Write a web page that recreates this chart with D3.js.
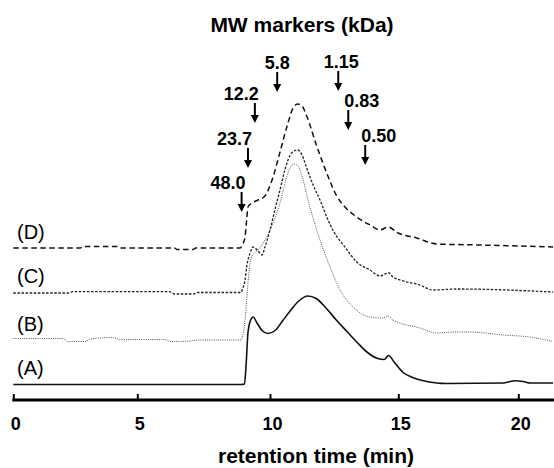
<!DOCTYPE html>
<html>
<head>
<meta charset="utf-8">
<script src="https://cdn.jsdelivr.net/npm/d3@7"></script>
<style>
  html, body { margin: 0; padding: 0; background: #fff; }
  svg { display: block; font-family: "Liberation Sans", Arial, sans-serif; }
</style>
</head>
<body>
<svg id="chart" width="554" height="468"></svg>
<script>
// ---------- data ----------
const xTicks = [0, 5, 10, 15, 20];
const seriesNames = ["(A)", "(B)", "(C)", "(D)"];
// vertical offset of each trace (signal units)
const traceOffsets = [0, 44.5, 92, 136.5];

// [retention time (min), signal above own baseline]
const traceA = [[0,0],[8.9,0],[9.04,0.5],[9.1,20],[9.17,52],[9.25,63],[9.37,67.5],[9.5,62],[9.7,54],[9.92,51],[10.2,54],[10.5,64],[10.8,74],[11.1,83],[11.48,88.5],[11.8,86],[12.2,76],[12.6,64],[13.0,53],[13.4,42],[13.8,32],[14.2,26],[14.45,25],[14.62,29],[14.85,22],[15.2,12],[15.6,7],[16.0,4],[16.6,1.5],[17.0,1],[19.4,1.5],[19.86,3.8],[20.2,3],[20.5,1.5],[21.45,1.5]];
const traceB = [[0,1.5],[2.0,1.5],[2.2,-1.5],[2.9,-1.5],[3.1,1],[4.0,2.5],[4.3,0.5],[6.0,0.5],[6.3,-1.5],[7.0,-1],[7.3,0],[8.9,0],[8.98,5],[9.06,20],[9.12,40],[9.18,60],[9.25,77],[9.32,84],[9.55,90],[9.87,103],[10.12,117],[10.39,137],[10.65,163],[10.82,174],[10.95,176],[11.09,174],[11.29,160],[11.48,140],[11.68,122],[11.95,100],[12.34,73],[12.73,50],[13.24,33],[13.9,23],[14.41,22],[14.61,24],[14.79,20],[15.07,17],[15.9,12],[16.6,7],[17.43,8],[18.0,8],[19.36,5],[20.48,3],[21.45,-1.5]];
const traceC = [[0,-0.5],[2.2,-0.5],[2.4,0.8],[6.2,0.8],[6.4,-1.5],[7.1,-1.5],[7.3,0],[8.9,0],[8.98,4.5],[9.06,12.5],[9.12,25.5],[9.25,39.5],[9.37,45.5],[9.55,41.5],[9.7,37.5],[9.81,45.5],[10.0,62.5],[10.19,82.5],[10.39,102.5],[10.58,122.5],[10.84,139.5],[11.08,142.5],[11.25,137.5],[11.43,124.5],[11.68,107.5],[11.95,92.5],[12.22,75],[12.46,62],[12.92,45.5],[13.38,30.5],[13.9,22.5],[14.29,16.5],[14.61,19.8],[14.79,15.5],[15.07,12.5],[15.9,7.5],[16.45,2.5],[17.43,3.5],[21.45,0.5]];
const traceD = [[0,0],[2.7,0],[2.8,1.5],[4.2,1.5],[4.3,0],[6.4,0],[6.5,-1.5],[7.1,-1.5],[7.2,0],[8.87,0],[8.98,4],[9.06,11],[9.12,28],[9.17,41],[9.32,45],[9.55,48],[9.81,52],[10.08,68],[10.39,96],[10.7,125],[10.9,140],[11.08,144],[11.25,142],[11.43,132],[11.82,102],[12.21,75],[12.6,52],[12.92,41],[13.38,31],[13.9,23],[14.29,18],[14.6,21],[14.99,15],[15.77,10],[16.6,4],[18.4,3],[21.45,1]];

// MW markers (kDa): label, retention time, arrow tip level (signal units)
const markerLabels = ["48.0", "23.7", "12.2", "5.8", "1.15", "0.83", "0.50"];
const markerTimes  = [8.93, 9.17, 9.43, 10.28, 12.66, 13.05, 13.71];
const markerTips   = [172.5, 216.5, 261.5, 292.5, 293.5, 254.5, 219.5];

// ---------- scales ----------
const svg = d3.select("#chart");
const x = d3.scaleLinear().domain(xTicks).range([13.3, 137.3, 270, 398.3, 518.3]);
const y = d3.scaleLinear().domain([0, 300]).range([384.5, 84.5]);

// ---------- traces ----------
const traces = [traceA, traceB, traceC, traceD];
const styles = [
  {dash: null,      width: 1.6, color: "#111"},
  {dash: "1,1.2",   width: 1.0, color: "#555"},
  {dash: "2.5,1.6", width: 1.3, color: "#222"},
  {dash: "5.5,3.5", width: 1.5, color: "#111"}
];
traces.forEach((tr, i) => {
  const line = d3.line()
    .x(d => x(d[0]))
    .y(d => y(d[1] + traceOffsets[i]))
    .curve(d3.curveMonotoneX);
  svg.append("path")
    .datum(tr)
    .attr("d", line)
    .attr("fill", "none")
    .attr("stroke", styles[i].color)
    .attr("stroke-width", styles[i].width)
    .attr("stroke-dasharray", styles[i].dash);
  svg.append("text")
    .attr("x", 17)
    .attr("y", y(traceOffsets[i]) - 9.5)
    .attr("font-size", 20)
    .attr("fill", "#000")
    .text(seriesNames[i]);
});

// ---------- axis ----------
const axisY = 400;
const axis = d3.axisBottom(x).tickValues(xTicks).tickSizeInner(-6).tickSizeOuter(0).tickPadding(17);
const gAxis = svg.append("g").attr("transform", `translate(0,${axisY})`).call(axis);
gAxis.select(".domain").remove();
gAxis.selectAll(".tick line").attr("stroke", "#000").attr("stroke-width", 2);
gAxis.selectAll(".tick text").attr("font-size", 18).attr("font-weight", "bold").attr("fill", "#000")
  .attr("font-family", "'Liberation Sans', Arial, sans-serif").attr("dx", 2);
svg.append("line")
  .attr("x1", x(0) - 1).attr("x2", x(21.5))
  .attr("y1", axisY).attr("y2", axisY)
  .attr("stroke", "#000").attr("stroke-width", 3);

svg.append("text")
  .attr("x", 316).attr("y", 463)
  .attr("text-anchor", "middle")
  .attr("font-size", 21).attr("font-weight", "bold")
  .text("retention time (min)");

svg.append("text")
  .attr("x", 302).attr("y", 32)
  .attr("text-anchor", "middle")
  .attr("font-size", 21).attr("font-weight", "bold")
  .text("MW markers (kDa)");

// ---------- markers ----------
markerLabels.forEach((lab, i) => {
  const mx = x(markerTimes[i]);
  const tip = y(markerTips[i]);
  const g = svg.append("g");
  g.append("line")
    .attr("x1", mx).attr("x2", mx)
    .attr("y1", tip - 20).attr("y2", tip - 6)
    .attr("stroke", "#000").attr("stroke-width", 2);
  g.append("path")
    .attr("d", `M${mx - 4},${tip - 8}L${mx + 4},${tip - 8}L${mx},${tip}Z`)
    .attr("fill", "#000");
  let anchor = "middle", dx = 0;
  if (i < 3) { anchor = "end"; dx = 4; }
  else if (i === 4) { dx = 3; }
  else if (i > 4) { anchor = "start"; dx = -4; }
  g.append("text")
    .attr("x", mx + dx).attr("y", tip - 23)
    .attr("text-anchor", anchor)
    .attr("font-size", 18).attr("font-weight", "bold")
    .text(lab);
});
</script>
</body>
</html>
